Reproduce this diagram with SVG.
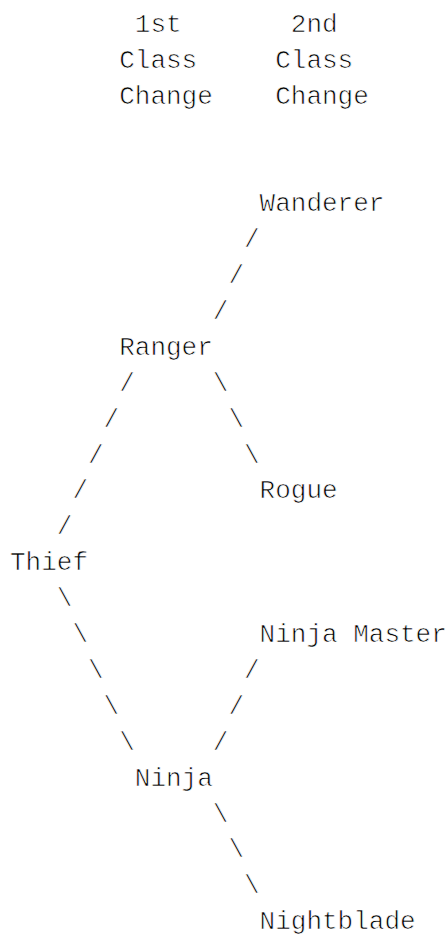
<svg xmlns="http://www.w3.org/2000/svg" width="448" height="936" viewBox="0 0 448 936">
<style>
text{font-family:"Courier New",Courier,"Nimbus Mono PS","Liberation Mono",monospace;font-size:26px;fill:#000;stroke:#fff;stroke-width:0.7px;}
</style>
<rect width="448" height="936" fill="#fff"/>
<g id="headers">
<text x="134.8" y="31.7">1st</text>
<text x="119.2" y="67.6">Class</text>
<text x="119.2" y="103.5">Change</text>
<text x="290.8" y="31.7">2nd</text>
<text x="275.2" y="67.6">Class</text>
<text x="275.2" y="103.5">Change</text>
</g>
<g id="thief"><text x="10" y="570.2">Thief</text></g>
<g id="ranger"><text x="119.2" y="354.8">Ranger</text></g>
<g id="ninja"><text x="134.8" y="785.6">Ninja</text></g>
<g id="wanderer"><text x="259.6" y="211.2">Wanderer</text></g>
<g id="rogue"><text x="259.6" y="498.4">Rogue</text></g>
<g id="ninja-master"><text x="259.6" y="642">Ninja Master</text></g>
<g id="nightblade"><text x="259.6" y="929.2">Nightblade</text></g>
<g id="connectors">
<text x="244" y="247.1">/</text>
<text x="228.4" y="283">/</text>
<text x="212.8" y="318.9">/</text>
<text x="119.2" y="390.7">/</text>
<text x="103.6" y="426.6">/</text>
<text x="88" y="462.5">/</text>
<text x="72.4" y="498.4">/</text>
<text x="56.8" y="534.3">/</text>
<text x="212.8" y="390.7">\</text>
<text x="228.4" y="426.6">\</text>
<text x="244" y="462.5">\</text>
<text x="56.8" y="606.1">\</text>
<text x="72.4" y="642">\</text>
<text x="88" y="677.9">\</text>
<text x="103.6" y="713.8">\</text>
<text x="119.2" y="749.7">\</text>
<text x="244" y="677.9">/</text>
<text x="228.4" y="713.8">/</text>
<text x="212.8" y="749.7">/</text>
<text x="212.8" y="821.5">\</text>
<text x="228.4" y="857.4">\</text>
<text x="244" y="893.3">\</text>
</g>
</svg>
